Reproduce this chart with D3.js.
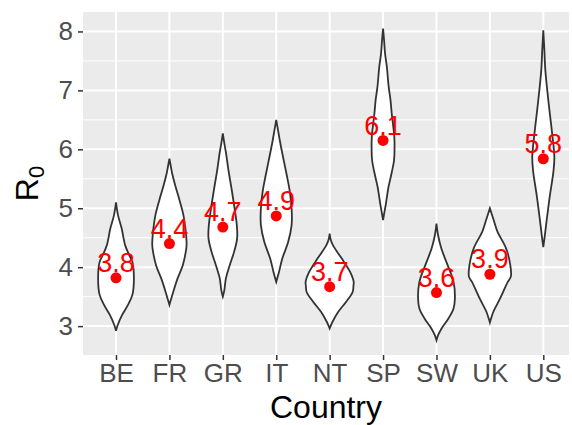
<!DOCTYPE html>
<meta charset="utf-8">
<script src="https://d3js.org/d3.v7.min.js"></script>
<style>
  body { margin: 0; background: #fff; }
  text { font-family: "Liberation Sans", Arial, Helvetica, sans-serif; }
</style>
<div id="chart"></div>
<script>

// countries on the x axis
var countries = ["BE", "FR", "GR", "IT", "NT", "SP", "SW", "UK", "US"];

// mean R0 per country (red dots) and the labels printed above them
var means = [3.82, 4.40, 4.68, 4.87, 3.67, 6.15, 3.57, 3.88, 5.84];
var meanLabels = ["3.8", "4.4", "4.7", "4.9", "3.7", "6.1", "3.6", "3.9", "5.8"];

// y axis ticks
var yTicks = [3, 4, 5, 6, 7, 8];

// violin outlines: [R0 value, relative density]
var densBE = [[5.10,0],[4.88,2],[4.66,5.5],[4.37,9],[4.20,13],[4.09,16],[3.81,17.5],[3.53,16],[3.36,11.7],[3.19,6],[3.02,1.7],[2.92,0]];
var densFR = [[5.84,0],[5.70,1.5],[5.59,2.7],[5.40,5.5],[5.22,8.5],[4.90,13.5],[4.60,16],[4.40,16.8],[4.32,16.5],[4.03,13],[3.81,8],[3.58,3.7],[3.45,1.5],[3.36,0]];
var densGR = [[6.27,0],[6.10,1.5],[5.95,3],[5.67,5.3],[5.28,9],[4.94,12],[4.71,13.7],[4.49,14],[4.26,11],[4.03,6.7],[3.81,3],[3.61,1.5],[3.50,0]];
var densIT = [[6.50,0],[6.35,1.5],[6.12,3.8],[5.84,7],[5.56,10.3],[5.28,13.3],[5.00,15],[4.85,15.3],[4.71,15],[4.43,11.7],[4.15,6],[3.92,2.7],[3.75,0]];
var densNT = [[4.57,0],[4.47,1],[4.37,3.3],[4.15,11.7],[3.92,20],[3.75,23.5],[3.69,23.3],[3.58,22.5],[3.41,16],[3.24,8.3],[3.07,2.7],[2.96,0]];
var densSP = [[8.05,0],[7.85,1],[7.62,2],[7.40,3.7],[7.06,5.5],[6.83,7.3],[6.60,8.5],[6.21,11],[6.00,11.2],[5.81,10.7],[5.53,7.5],[5.36,5.3],[5.08,2.8],[4.90,1],[4.80,0]];
var densSW = [[4.74,0],[4.55,1.5],[4.32,4.7],[4.03,11],[3.75,16.7],[3.47,18],[3.30,16.7],[3.13,11.7],[2.96,5],[2.85,1.7],[2.76,0]];
var densUK = [[5.00,0],[4.80,3.7],[4.60,7.5],[4.32,15.8],[4.03,20],[3.84,20.5],[3.75,17.5],[3.47,10],[3.24,3.3],[3.12,1],[3.06,0]];
var densUS = [[8.02,0],[7.70,1],[7.34,2],[6.77,5.3],[6.32,8.3],[5.87,10.8],[5.64,10],[5.19,6.2],[4.80,3.3],[4.51,1.3],[4.34,0]];

var violins = [densBE, densFR, densGR, densIT, densNT, densSP, densSW, densUK, densUS];

var W = 572, H = 425;
var panel = {left: 83, right: 569, top: 12, bottom: 355};

var svg = d3.select("#chart")
  .append("svg")
    .attr("width", W)
    .attr("height", H);

// scales
var x = d3.scalePoint()
    .domain(countries)
    .range([116, 543.3]);

var y = d3.scaleLinear()
    .domain([2.51, 8.33])
    .range([panel.bottom, panel.top]);

var maxDens = d3.max(violins, function(v) { return d3.max(v, function(d) { return d[1]; }); });
var w = d3.scaleLinear()
    .domain([0, maxDens])
    .range([0, x.step() * 0.45]);

// panel background
svg.append("rect")
    .attr("x", panel.left)
    .attr("y", panel.top)
    .attr("width", panel.right - panel.left)
    .attr("height", panel.bottom - panel.top)
    .attr("fill", "#ebebeb");

// minor grid
var minor = d3.range(2.5, 8.5, 1);
svg.append("g")
  .selectAll("line")
  .data(minor)
  .enter().append("line")
    .attr("x1", panel.left).attr("x2", panel.right)
    .attr("y1", function(d) { return y(d); })
    .attr("y2", function(d) { return y(d); })
    .attr("stroke", "#fff")
    .attr("stroke-width", 1);

// major grid
svg.append("g")
  .selectAll("line")
  .data(yTicks)
  .enter().append("line")
    .attr("x1", panel.left).attr("x2", panel.right)
    .attr("y1", function(d) { return y(d); })
    .attr("y2", function(d) { return y(d); })
    .attr("stroke", "#fff")
    .attr("stroke-width", 2);

svg.append("g")
  .selectAll("line")
  .data(countries)
  .enter().append("line")
    .attr("y1", panel.top).attr("y2", panel.bottom)
    .attr("x1", function(d) { return x(d); })
    .attr("x2", function(d) { return x(d); })
    .attr("stroke", "#fff")
    .attr("stroke-width", 2);

// violins
var area = d3.area()
    .curve(d3.curveCatmullRom)
    .y(function(d) { return y(d[0]); });

svg.append("g")
  .selectAll("path")
  .data(violins)
  .enter().append("path")
    .attr("d", function(v, i) {
      var cx = x(countries[i]);
      return area
        .x0(function(d) { return cx - w(d[1]); })
        .x1(function(d) { return cx + w(d[1]); })(v);
    })
    .attr("fill", "#fff")
    .attr("stroke", "#333")
    .attr("stroke-width", 1.8);

// mean points
svg.append("g")
  .selectAll("circle")
  .data(means)
  .enter().append("circle")
    .attr("cx", function(d, i) { return x(countries[i]); })
    .attr("cy", function(d) { return y(d); })
    .attr("r", 5.5)
    .attr("fill", "red");

// mean labels
svg.append("g")
  .selectAll("text")
  .data(means)
  .enter().append("text")
    .attr("x", function(d, i) { return x(countries[i]); })
    .attr("y", function(d) { return y(d + 0.1); })
    .attr("text-anchor", "middle")
    .attr("fill", "red")
    .style("font-size", "27px")
    .text(function(d, i) { return meanLabels[i]; });

// y axis
var yAxis = svg.append("g")
    .attr("transform", "translate(" + panel.left + ",0)")
    .call(d3.axisLeft(y).tickValues(yTicks).tickSize(5).tickPadding(5).tickFormat(d3.format("d")));
yAxis.select(".domain").remove();
yAxis.selectAll("line").attr("stroke", "#333").attr("stroke-width", 1.5);
yAxis.selectAll("text")
    .attr("fill", "#4d4d4d")
    .style("font-size", "26px")
    .style("font-family", "'Liberation Sans', Arial, sans-serif");

// x axis
var xAxis = svg.append("g")
    .attr("transform", "translate(0," + panel.bottom + ")")
    .call(d3.axisBottom(x).tickSize(5).tickPadding(4));
xAxis.select(".domain").remove();
xAxis.selectAll("line").attr("stroke", "#333").attr("stroke-width", 1.5);
xAxis.selectAll("text")
    .attr("fill", "#4d4d4d")
    .style("font-size", "26px")
    .style("font-family", "'Liberation Sans', Arial, sans-serif");

// axis titles
svg.append("text")
    .attr("x", (panel.left + panel.right) / 2)
    .attr("y", 418)
    .attr("text-anchor", "middle")
    .attr("fill", "#000")
    .style("font-size", "32px")
    .text("Country");

var yt = svg.append("text")
    .attr("transform", "translate(38," + ((panel.top + panel.bottom) / 2) + ") rotate(-90)")
    .attr("text-anchor", "middle")
    .attr("fill", "#000")
    .style("font-size", "32px");
yt.append("tspan").text("R");
yt.append("tspan").attr("dy", 6).style("font-size", "22px").text("0");

</script>
